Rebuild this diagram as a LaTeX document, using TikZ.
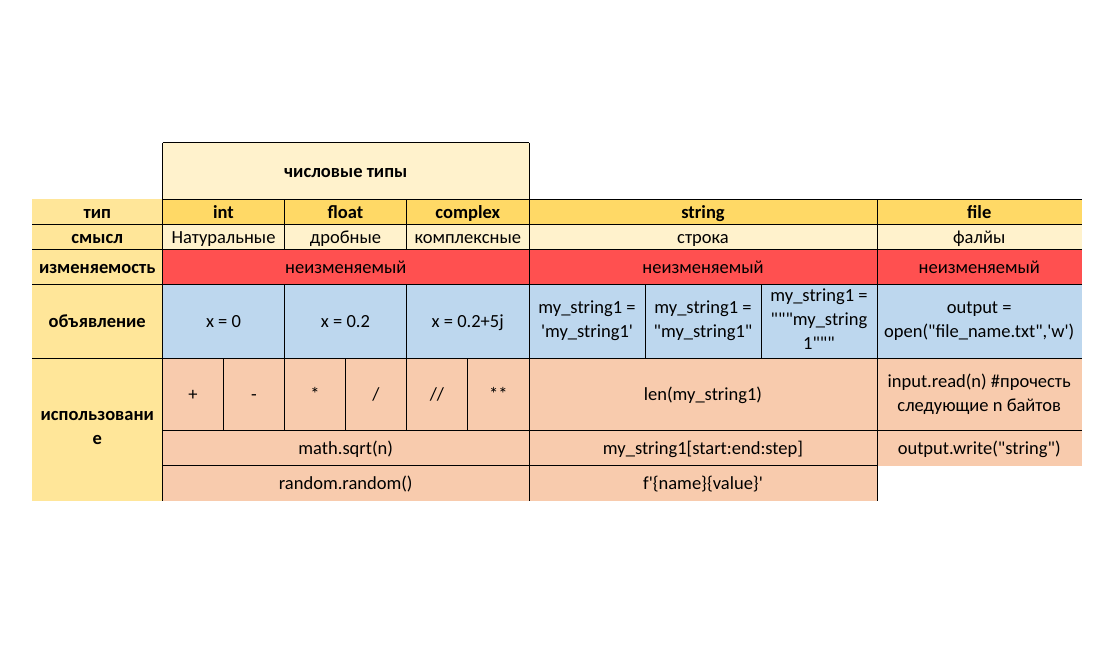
\documentclass[tikz,border=0pt]{standalone}
\usepackage{fontspec}
\setmainfont{Carlito}[Ligatures=TeXOff]
\definecolor{cLab}{HTML}{FFE699}
\definecolor{cTyp}{HTML}{FFD966}
\definecolor{cPale}{HTML}{FFF2CC}
\definecolor{cRed}{HTML}{FF5050}
\definecolor{cBlue}{HTML}{BDD7EE}
\definecolor{cPeach}{HTML}{F8CBAD}
\newcommand\cellstrut{\rule[-4pt]{0pt}{21pt}}
\newcommand\mycell[7]{%
  \node[cell, fill=#6, minimum width={#4-#2}, minimum height={#5-#3}]
    (#1) at ({(#2+#4)/2},{(#3+#5)/2}) {#7};}
\begin{document}
\begin{tikzpicture}[x=1pt,y=-1pt,
  cell/.style={inner sep=0pt, outer sep=0pt, align=center,
    font=\fontsize{18.5}{24}\selectfont,
    execute at begin node=\cellstrut, execute at end node=\cellstrut},
  gridline/.style={line width=1pt, black}]
\useasboundingbox (0,0) rectangle (1109,668);
% header
\mycell{num}{162.5}{143}{529}{199.5}{cPale}{\textbf{числовые типы}}
% label column
\mycell{lt}{32}{199.5}{162.5}{224.5}{cLab}{\textbf{тип}}
\mycell{ls}{32}{224.5}{162.5}{249.5}{cLab}{\textbf{смысл}}
\mycell{li}{32}{249.5}{162.5}{284.5}{cLab}{\textbf{изменяемость}}
\mycell{lo}{32}{284.5}{162.5}{358.5}{cLab}{\textbf{объявление}}
\mycell{lu}{32}{358.5}{162.5}{501}{cLab}{\textbf{использовани}\\\textbf{е}}
% type row
\mycell{tint}{162.5}{199.5}{284.5}{224.5}{cTyp}{\textbf{int}}
\mycell{tfloat}{284.5}{199.5}{406.5}{224.5}{cTyp}{\textbf{float}}
\mycell{tcomplex}{406.5}{199.5}{529}{224.5}{cTyp}{\textbf{complex}}
\mycell{tstring}{529}{199.5}{877}{224.5}{cTyp}{\textbf{string}}
\mycell{tfile}{877}{199.5}{1081.5}{224.5}{cTyp}{\textbf{file}}
% meaning row
\mycell{mint}{162.5}{224.5}{284.5}{249.5}{cPale}{Натуральные}
\mycell{mfloat}{284.5}{224.5}{406.5}{249.5}{cPale}{дробные}
\mycell{mcomplex}{406.5}{224.5}{529}{249.5}{cPale}{комплексные}
\mycell{mstring}{529}{224.5}{877}{249.5}{cPale}{строка}
\mycell{mfile}{877}{224.5}{1081.5}{249.5}{cPale}{фалйы}
% mutability row
\mycell{rnum}{162.5}{249.5}{529}{284.5}{cRed}{неизменяемый}
\mycell{rstring}{529}{249.5}{877}{284.5}{cRed}{неизменяемый}
\mycell{rfile}{877}{249.5}{1081.5}{284.5}{cRed}{неизменяемый}
% declaration row
\mycell{dint}{162.5}{284.5}{284.5}{358.5}{cBlue}{x = 0}
\mycell{dfloat}{284.5}{284.5}{406.5}{358.5}{cBlue}{x = 0.2}
\mycell{dcomplex}{406.5}{284.5}{529}{358.5}{cBlue}{x = 0.2+5j}
\mycell{dsa}{529}{284.5}{645}{358.5}{cBlue}{my\_string1 =\\'my\_string1'}
\mycell{dsb}{645}{284.5}{761}{358.5}{cBlue}{my\_string1 =\\"my\_string1"}
\mycell{dsc}{761}{284.5}{877}{358.5}{cBlue}{my\_string1 =\\"""my\_string\\1"""}
\mycell{dfile}{877}{284.5}{1081.5}{358.5}{cBlue}{output =\\open("file\_name.txt",'w')}
% operators row
\mycell{oa}{162.5}{358.5}{223.5}{430}{cPeach}{+}
\mycell{ob}{223.5}{358.5}{284.5}{430}{cPeach}{-}
\mycell{oc}{284.5}{358.5}{345.5}{430}{cPeach}{*}
\mycell{od}{345.5}{358.5}{406.5}{430}{cPeach}{/}
\mycell{oe}{406.5}{358.5}{467.5}{430}{cPeach}{//}
\mycell{of}{467.5}{358.5}{529}{430}{cPeach}{**}
\mycell{olen}{529}{358.5}{877}{430}{cPeach}{len(my\_string1)}
\mycell{oread}{877}{358.5}{1081.5}{430}{cPeach}{input.read(n) \#прочесть\\следующие n байтов}
% second usage row
\mycell{usqrt}{162.5}{430}{529}{465.5}{cPeach}{math.sqrt(n)}
\mycell{uslice}{529}{430}{877}{465.5}{cPeach}{my\_string1[start:end:step]}
\mycell{uwrite}{877}{430}{1081.5}{465.5}{cPeach}{output.write("string")}
% third usage row
\mycell{vrand}{162.5}{465.5}{529}{501}{cPeach}{random.random()}
\mycell{vfstr}{529}{465.5}{877}{501}{cPeach}{f'\{name\}\{value\}'}
% horizontal lines
\draw[gridline] (num.north west) -- (num.north east);
\draw[gridline] (tint.north west) -- (tfile.north east);
\draw[gridline] (ls.north west) -- (mfile.north east);
\draw[gridline] (li.north west) -- (rfile.north east);
\draw[gridline] (lo.north west) -- (dfile.north east);
\draw[gridline] (lu.north west) -- (oread.north east);
\draw[gridline] (usqrt.north west) -- (uwrite.north east);
\draw[gridline] (vrand.north west) -- (vfstr.north east);
% vertical lines
\draw[gridline] (num.north west) -- (vrand.south west);
\draw[gridline] (num.north east) -- (vfstr.south west);
\draw[gridline] (tfile.north west) -- (vfstr.south east);
\draw[gridline] (tint.north east) -- (mint.south east);
\draw[gridline] (tfloat.north east) -- (mfloat.south east);
\draw[gridline] (dint.north east) -- (ob.south east);
\draw[gridline] (dfloat.north east) -- (od.south east);
\draw[gridline] (oa.north east) -- (oa.south east);
\draw[gridline] (oc.north east) -- (oc.south east);
\draw[gridline] (oe.north east) -- (oe.south east);
\draw[gridline] (dsa.north east) -- (dsa.south east);
\draw[gridline] (dsb.north east) -- (dsb.south east);
\end{tikzpicture}
\end{document}
